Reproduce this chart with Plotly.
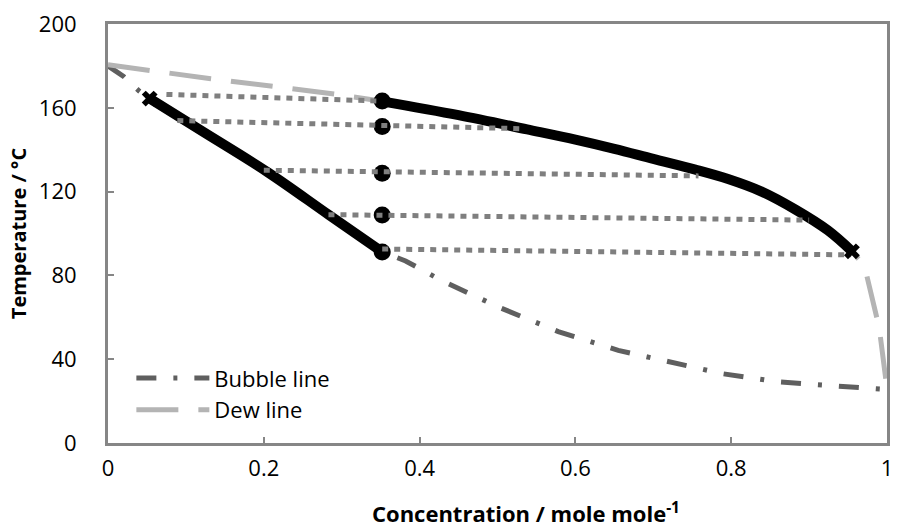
import plotly.graph_objects as go

# ---------------- data ----------------
bubble_x = [0, 0.02, 0.04, 0.0535, 0.12, 0.206, 0.283, 0.352, 0.382, 0.429, 0.503,
            0.578, 0.655, 0.729, 0.79, 0.86, 0.921, 0.96, 1.0]
bubble_T = [180, 175, 168, 164.4, 149, 129, 109, 91.2, 86.9, 77.4, 64.6,
            53.2, 44.2, 38.0, 33.0, 29.2, 27.6, 26.2, 25.5]

dew_x = [0, 0.132, 0.293, 0.352, 0.45, 0.538, 0.6, 0.65, 0.7, 0.754, 0.796, 0.839,
         0.882, 0.924, 0.955, 0.971, 0.99, 1.0]
dew_T = [180.5, 173.9, 166.5, 163.1, 156.5, 149.7, 144.8, 140.4, 135.6, 130.5, 126.0, 120.0,
         111.5, 101.5, 91.5, 84.6, 55, 26]

# two-phase (highlighted) segments
liq_x = [0.0535, 0.12, 0.206, 0.283, 0.352]
liq_T = [164.4, 149, 129, 109, 91.2]
vap_x = [0.352, 0.45, 0.538, 0.6, 0.65, 0.7, 0.754, 0.796, 0.839, 0.882, 0.924, 0.955]
vap_T = [163.1, 156.5, 149.7, 144.8, 140.4, 135.6, 130.5, 126.0, 120.0, 111.5, 101.5, 91.5]

# overall composition points
feed_x = [0.352, 0.352, 0.352, 0.352, 0.352]
feed_T = [163.2, 151.1, 128.8, 108.8, 91.2]

# tie lines (start x, start T, end x, end T)
tie_x0 = [0.075, 0.089, 0.200, 0.283, 0.352]
tie_T0 = [166.4, 153.9, 130.2, 109.0, 92.6]
tie_x1 = [0.352, 0.534, 0.758, 0.900, 0.954]
tie_T1 = [163.2, 150.0, 127.5, 106.4, 89.8]

# end markers of the two-phase segments
end_x = [0.0535, 0.955]
end_T = [164.4, 91.5]

x_ticks = [0, 0.2, 0.4, 0.6, 0.8, 1]
y_ticks = [0, 40, 80, 120, 160, 200]

# ---------------- figure ----------------
FONT = "Open Sans"
fig = go.Figure()

fig.add_trace(go.Scatter(
    x=bubble_x, y=bubble_T, mode="lines", name="Bubble line",
    line=dict(color="#5F5F5F", width=5, dash="20px,17px,4px,17px"),
))
fig.add_trace(go.Scatter(
    x=dew_x, y=dew_T, mode="lines", name="Dew line",
    line=dict(color="#B4B4B4", width=5, dash="42px,20px"),
))

fig.add_trace(go.Scatter(
    x=liq_x, y=liq_T, mode="lines", showlegend=False,
    line=dict(color="black", width=10, shape="spline"),
))
fig.add_trace(go.Scatter(
    x=vap_x, y=vap_T, mode="lines", showlegend=False,
    line=dict(color="black", width=10, shape="spline"),
))
fig.add_trace(go.Scatter(
    x=feed_x, y=feed_T, mode="markers", showlegend=False,
    marker=dict(color="black", size=17),
))

tx, ty = [], []
for a, b, c, d in zip(tie_x0, tie_T0, tie_x1, tie_T1):
    tx += [a, c, None]
    ty += [b, d, None]
fig.add_trace(go.Scatter(
    x=tx, y=ty, mode="lines", showlegend=False, connectgaps=False,
    line=dict(color="#7F7F7F", width=5, dash="6px,6px"),
))

fig.add_trace(go.Scatter(
    x=end_x, y=end_T, mode="markers", showlegend=False,
    marker=dict(color="black", size=14, symbol="x"),
))

axis_common = dict(
    showgrid=False, zeroline=False,
    showline=True, linecolor="#868686", linewidth=3, mirror=True,
    ticks="inside", ticklen=6, tickwidth=2, tickcolor="#868686",
    tickfont=dict(family=FONT, size=22, color="black"),
)

fig.update_layout(
    width=901, height=532,
    margin=dict(l=108, r=8, t=22, b=89),
    paper_bgcolor="white", plot_bgcolor="white",
    font=dict(family=FONT, size=22, color="black"),
    xaxis=dict(range=[0, 1], tickvals=x_ticks, ticktext=[str(v) for v in x_ticks],
               ticklabelstandoff=4, **axis_common),
    yaxis=dict(range=[0, 200], tickvals=y_ticks, ticktext=[str(v) for v in y_ticks],
               ticklabelstandoff=24,
               title=dict(text="<b>Temperature / °C</b>",
                          font=dict(family=FONT, size=20), standoff=7),
               **axis_common),
    legend=dict(x=0.03, y=0.028, xanchor="left", yanchor="bottom",
                bgcolor="rgba(0,0,0,0)", itemwidth=73,
                font=dict(family=FONT, size=22)),
    annotations=[dict(
        text="<b>Concentration / mole mole<sup>-1</sup></b>",
        xref="paper", yref="paper", x=0.536, y=-0.166,
        xanchor="center", yanchor="middle", showarrow=False,
        font=dict(family=FONT, size=22, color="black"),
    )],
)

fig.write_html("out.html")
